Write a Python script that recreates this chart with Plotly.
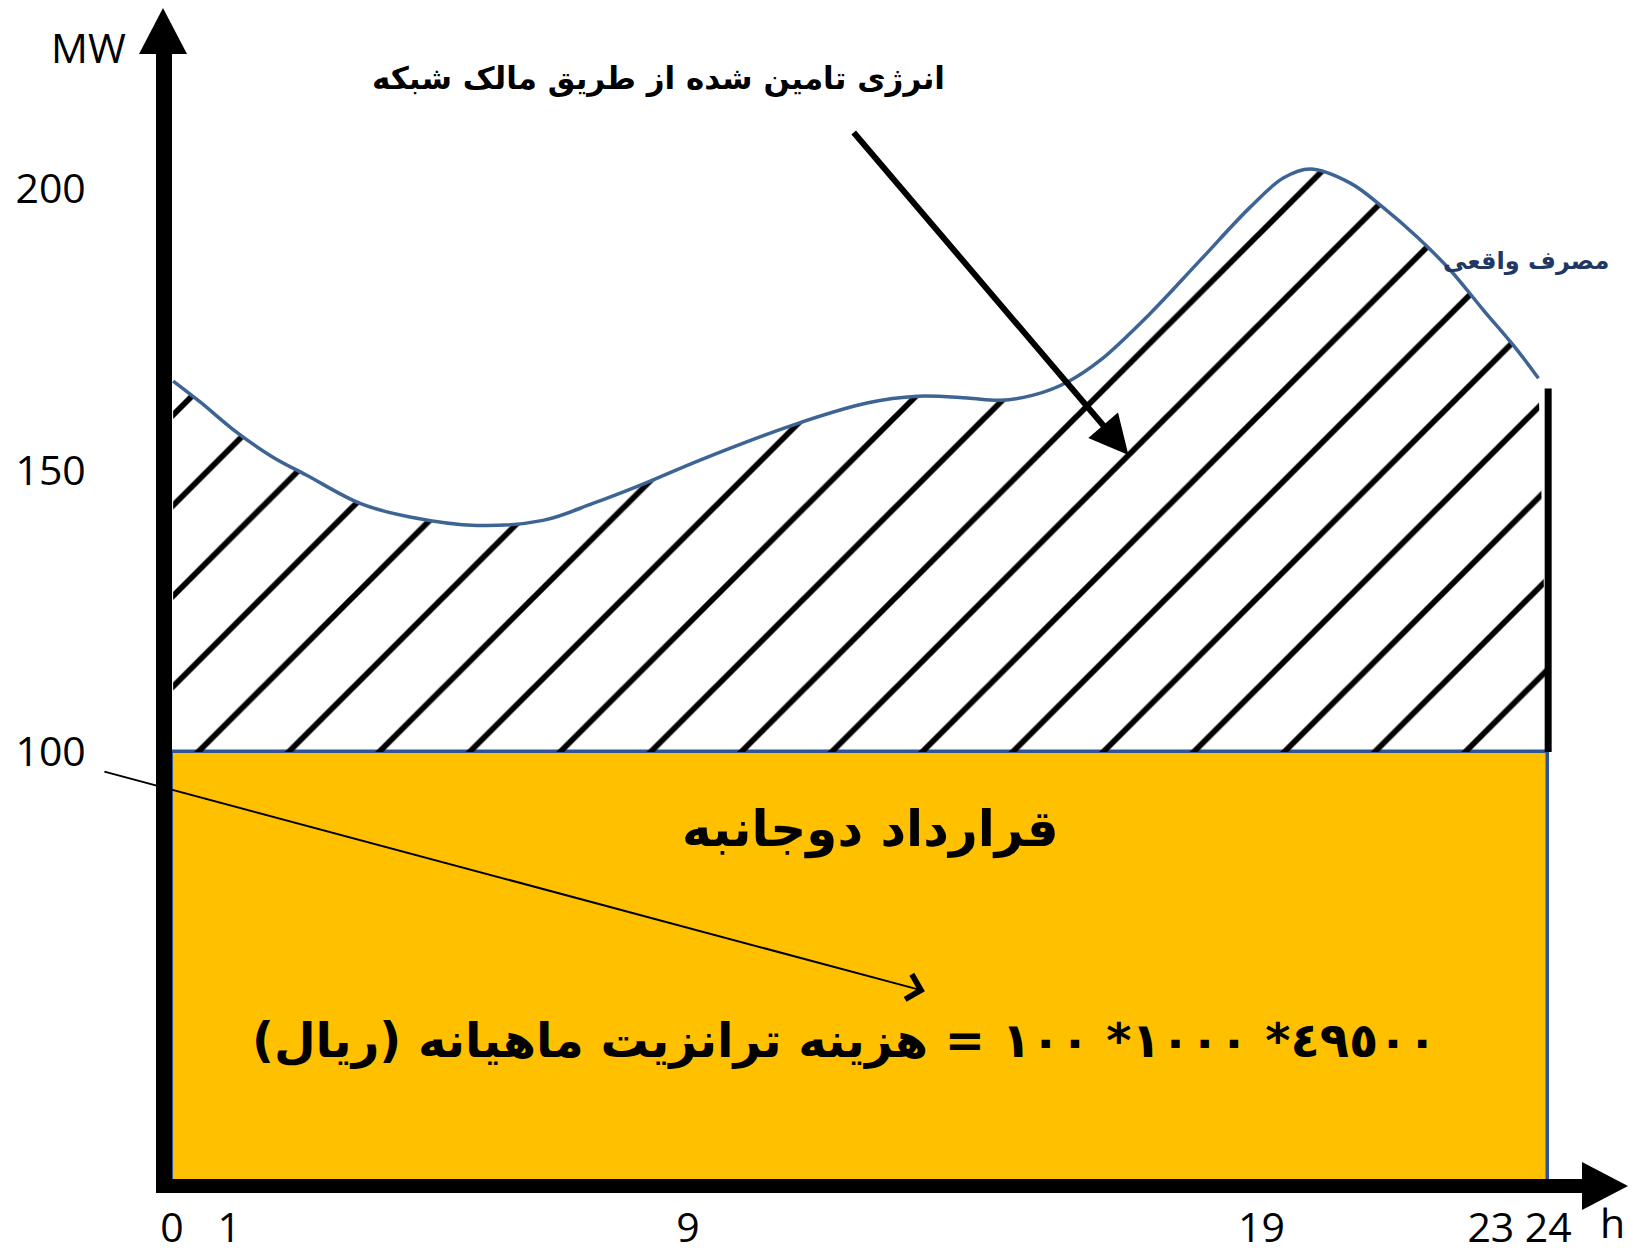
import plotly.graph_objects as go

# ---------------- data ----------------
hours = [0.02, 0.49, 1.13, 1.76, 2.35, 3.28, 4.15, 5.32, 6.47, 7.34, 8.16, 9.21,
         10.83, 12.12, 13.0, 13.87, 14.44, 15.02, 15.61, 16.19, 17.06, 17.93,
         18.80, 19.38, 19.85, 20.55, 21.12, 21.72, 22.29, 22.87, 23.46, 23.83]
actual_mw = [165.8, 162.1, 156.7, 152.3, 149.1, 144.1, 141.7, 140.2, 141.1, 144.1,
             147.3, 151.8, 158.0, 161.9, 163.1, 162.8, 162.4, 163.3, 165.6, 169.5,
             177.8, 187.2, 196.6, 201.8, 203.4, 200.9, 196.6, 191.3, 185.5, 178.4,
             171.3, 166.3]
contract_mw = 100
day_start, day_end = 0, 24
end_boundary_mw = 164.5

x_tick_vals = [0, 1, 9, 19, 23, 24]
x_tick_text = ["0", "1", "9", "19", "23", "24"]
y_tick_vals = [100, 150, 200]
y_tick_text = ["100", "150", "200"]

title_txt = "انرژی تامین شده از طریق مالک شبکه"
actual_txt = "مصرف واقعی"
contract_txt = "قرارداد دوجانبه"
formula_txt = "\u202b٤٩٥٠٠* ١٠٠٠* ١٠٠ = هزینه ترانزیت ماهیانه (ریال)\u202c"

# ---------------- layout geometry ----------------
W, H = 1635, 1254
L, R, T, B = 172, 53, 54, 75
pw, ph = W - L - R, H - T - B
X_RANGE = [0, 24.59]
Y_RANGE = [24.3, 223.8]

def px(xp):
    return (xp - L) / pw

def py(yp):
    return (H - B - yp) / ph

fig = go.Figure()

# contract bar (0..100 MW over the whole day)
fig.add_trace(go.Bar(
    x=[(day_start + day_end) / 2], y=[contract_mw], width=[day_end - day_start],
    marker=dict(color="#FFC000", line=dict(color="#2F5597", width=3.5)),
    hoverinfo="skip", showlegend=False))

# base of hatched region
fig.add_trace(go.Scatter(
    x=[hours[0], day_end], y=[contract_mw, contract_mw], mode="lines",
    line=dict(width=0, color="rgba(0,0,0,0)"), hoverinfo="skip", showlegend=False))

# actual consumption curve with hatched fill down to contract level
fig.add_trace(go.Scatter(
    x=hours, y=actual_mw, mode="lines",
    line=dict(color="#3D6494", width=3.5, shape="spline", smoothing=1.0),
    fill="tonexty", fillcolor="rgba(255,255,255,0)",
    fillpattern=dict(shape="/", fgcolor="black", bgcolor="rgba(255,255,255,0)",
                     size=64, solidity=0.09, fillmode="replace"),
    hoverinfo="skip", showlegend=False))

# right boundary of hatched region
fig.add_trace(go.Scatter(
    x=[day_end, day_end], y=[contract_mw, end_boundary_mw], mode="lines",
    line=dict(color="black", width=7), hoverinfo="skip", showlegend=False))

num_font = dict(family="Open Sans, Lato, sans-serif", size=41, color="black")
fa_font = "DejaVu Sans, Noto Sans, sans-serif"

fig.update_layout(
    width=W, height=H,
    margin=dict(l=L, r=R, t=T, b=B, pad=0, autoexpand=False),
    paper_bgcolor="white", plot_bgcolor="white",
    bargap=0,
    xaxis=dict(range=X_RANGE, showgrid=False, zeroline=False, showline=True,
               linecolor="black", linewidth=14, tickvals=x_tick_vals,
               ticktext=x_tick_text, ticks="", tickfont=num_font,
               ticklabelstandoff=0, automargin=False),
    yaxis=dict(range=Y_RANGE, showgrid=False, zeroline=False, showline=True,
               linecolor="black", linewidth=16, tickvals=y_tick_vals,
               ticktext=y_tick_text, ticks="", tickfont=num_font,
               ticklabelstandoff=62, automargin=False),
    shapes=[
        # arrow head of y axis
        dict(type="path", xref="paper", yref="paper",
             path=f"M {px(139)},{py(54)} L {px(163)},{py(8)} L {px(187)},{py(54)} Z",
             fillcolor="black", line=dict(width=0)),
        # arrow head of x axis
        dict(type="path", xref="paper", yref="paper",
             path=f"M {px(1582)},{py(1162)} L {px(1628)},{py(1186)} L {px(1582)},{py(1210)} Z",
             fillcolor="black", line=dict(width=0)),
    ],
    annotations=[
        dict(text="MW", xref="paper", yref="paper", x=px(88), y=py(47),
             showarrow=False, font=num_font, xanchor="center", yanchor="middle"),
        dict(text="h", xref="paper", yref="paper", x=px(1612), y=py(1222),
             showarrow=False, font=num_font, xanchor="center", yanchor="middle"),
        dict(text=title_txt, x=8.48, y=219.5, showarrow=False,
             font=dict(family=fa_font, size=31, color="black", weight="bold"),
             xanchor="center", yanchor="middle"),
        dict(text="", x=16.68, y=152.7, ax=-276, ay=-324, showarrow=True,
             arrowhead=2, arrowsize=1.3, arrowwidth=6, arrowcolor="black", standoff=0),
        dict(text=actual_txt, x=23.62, y=187.1, showarrow=False,
             font=dict(family=fa_font, size=24, color="#1F3864", weight="bold"),
             xanchor="center", yanchor="middle"),
        dict(text=contract_txt, x=12.19, y=86.3, showarrow=False,
             font=dict(family=fa_font, size=50, color="black", weight="bold"),
             xanchor="center", yanchor="middle"),
        dict(text=formula_txt, x=11.72, y=48.9, showarrow=False,
             font=dict(family=fa_font, size=48, color="black", weight="bold"),
             xanchor="center", yanchor="middle"),
        dict(text="", x=13.13, y=57.6, ax=-822, ay=-220, showarrow=True,
             arrowhead=4, arrowsize=2.5, arrowwidth=2, arrowcolor="black", standoff=0),
    ],
)

fig.write_html("out.html", config={"displayModeBar": False},
               post_script="document.body.style.margin='0px';")
